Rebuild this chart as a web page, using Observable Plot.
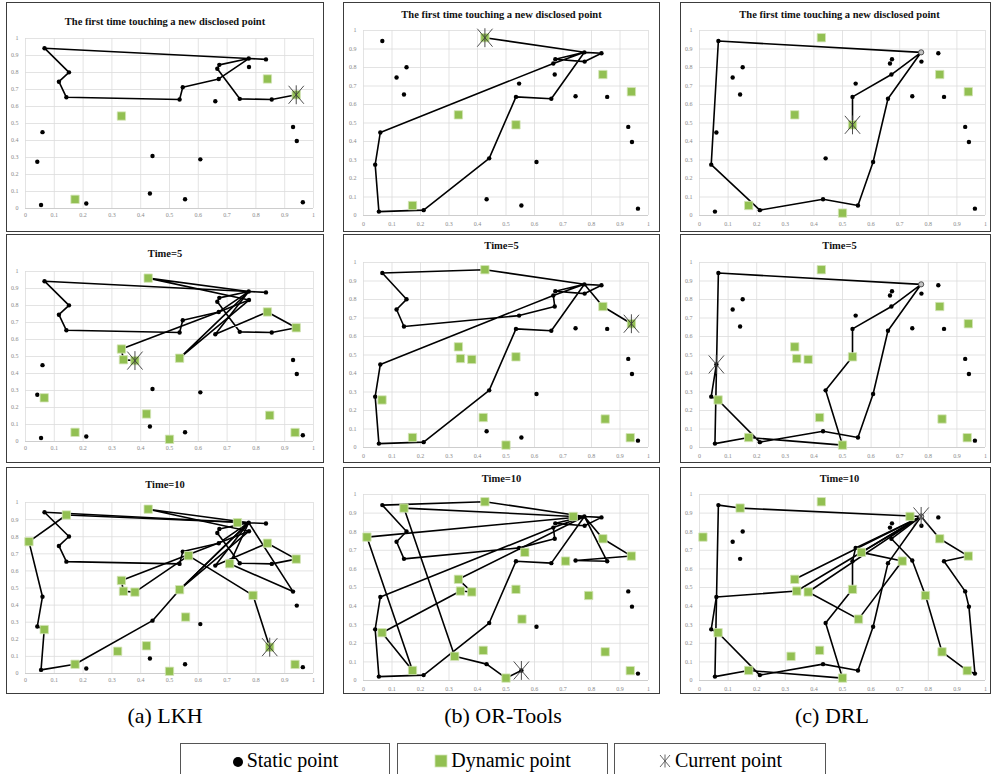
<!DOCTYPE html>
<html>
<head>
<meta charset="utf-8">
<script src="https://cdn.jsdelivr.net/npm/d3@7"></script>
<script src="https://cdn.jsdelivr.net/npm/@observablehq/plot@0.6"></script>
<style>
  html, body { margin:0; padding:0; background:#fff; width:992px; height:774px; overflow:hidden; }
  body { position:relative; font-family:"Liberation Serif","Times New Roman",Times,serif; }
  .pbox { position:absolute; box-sizing:border-box; border:1.5px solid #3c3c3c; pointer-events:none; }
  .psvg { position:absolute; }
  .ptitle { position:absolute; font-family:"Liberation Serif","Times New Roman",Times,serif; font-weight:bold; font-size:10.5px; line-height:12px; text-align:center; color:#111; white-space:nowrap; }
  .cap { position:absolute; font-family:"Liberation Serif","Times New Roman",Times,serif; font-size:22px; line-height:26px; text-align:center; color:#000; white-space:nowrap; }
  .leg { position:absolute; box-sizing:border-box; border:1px solid #555; height:34px; top:743px; font-family:"Liberation Serif","Times New Roman",Times,serif; font-size:20px; line-height:32px; text-align:center; color:#000; white-space:nowrap; }
</style>
</head>
<body>
<script>
// ---------- data ----------
const tickValues = [0, 0.1, 0.2, 0.3, 0.4, 0.5, 0.6, 0.7, 0.8, 0.9, 1];

const staticPoints = [
  ["s1", 0.066, 0.943], ["s2", 0.151, 0.801], ["s3", 0.116, 0.746], ["s4", 0.142, 0.654],
  ["s5", 0.059, 0.449], ["s6", 0.041, 0.275], ["s7", 0.054, 0.021], ["s8", 0.211, 0.029],
  ["s9", 0.432, 0.088], ["s10", 0.441, 0.309], ["s11", 0.554, 0.054], ["s12", 0.607, 0.289],
  ["s13", 0.535, 0.641], ["s14", 0.546, 0.713], ["s15", 0.671, 0.762], ["s16", 0.666, 0.822],
  ["s17", 0.673, 0.845], ["s18", 0.775, 0.882], ["s19", 0.835, 0.877], ["s20", 0.776, 0.832],
  ["s21", 0.659, 0.631], ["s22", 0.744, 0.645], ["s23", 0.855, 0.641], ["s24", 0.929, 0.479],
  ["s25", 0.942, 0.397], ["s26", 0.963, 0.037]
];

const dynamicPoints = [
  ["d1", 0.172, 0.054], ["d2", 0.333, 0.544], ["d3", 0.840, 0.762], ["d4", 0.940, 0.669],
  ["d5", 0.535, 0.490], ["d6", 0.426, 0.961], ["d7", 0.500, 0.013], ["d8", 0.065, 0.257],
  ["d9", 0.420, 0.162], ["d10", 0.848, 0.154], ["d11", 0.936, 0.053], ["d12", 0.340, 0.481],
  ["d13", 0.380, 0.476], ["d14", 0.012, 0.771], ["d15", 0.142, 0.927], ["d16", 0.736, 0.882],
  ["d17", 0.566, 0.689], ["d18", 0.709, 0.642], ["d19", 0.790, 0.457], ["d20", 0.556, 0.330],
  ["d21", 0.320, 0.130]
];

const panelTitles = ["The first time touching a new disclosed point", "Time=5", "Time=10"];
const methodCaptions = ["(a) LKH", "(b) OR-Tools", "(c) DRL"];
const legendLabels = ["Static point", "Dynamic point", "Current point"];

// number of disclosed dynamic points per panel [row][col]
const dynamicShown = [[4, 6, 7], [13, 13, 13], [21, 21, 21]];
// current point per panel [row][col]
const currentPoint = [["d4", "d6", "d5"], ["d13", "d4", "s5"], ["d10", "s11", "s18"]];

// routes per panel: lists of polylines of point ids
const routes = [
  [
    [["s19","s18","s1","s2","s3","s4","s13","s14","s15","s18","s17","s16","s22","s23","d4"]],
    [["s18","s16","s5","s6","s7","s8","s10","s13","s21","s18","s17","s20","s19","s18","d6"]],
    [["s18","s1","s6","s8","s9","s11","s12","s21","s18","s15","s13","d5"]]
  ],
  [
    [["s19","s18","s1","s2","s3","s4","s13","s14","s15","s18","s17","s16","s22","s23","d4","d3","s21","s18"],
     ["s18","d6","s20","d5","s18"],
     ["s20","s15","d2","d12","d13"]],
    [["s18","s16","s5","s6","s7","s8","s10","s13","s21","s18","s17","s20","s19","s18","d6","s1","s2","s3","s4","s14","s15","s16","s18","d3","d4"]],
    [["s18","s1","s7","d1","d7","s10","d5","s13","s15","s18","s21","s12","s11","s9","s8","d8","s6","s5"]]
  ],
  [
    [["s19","s18","s1","s2","s3","s4","s13","s14","s15","s18","s17","s16","s22","s23","d4","d3","s21","s18"],
     ["s18","d6","s20","d5","s18"],
     ["s18","d15","d14","s5","s6","d8","s7","d1","s10","d5","s18"],
     ["s20","d2","d12","d13","d17","d19","d10"],
     ["s18","d18","s24","s18"]],
    [["s18","s16","s5","s6","s7","s8","s10","s13","s21","s18","s17","s20","s19","s18","d6","s1","s2","s3","s4","s14","s15","s16","s18","d3","d4","s22","s23","s18"],
     ["s18","d14","d1","d8","d12","d13","d2","s18"],
     ["s18","d16","d15","d21","s9","d7","s11"]],
    [["s18","d15","s1","s7","d1","d7","s10","d5","s13","s14","s18"],
     ["s18","s21","s12","s11","s9","s8","d8","s6","s5","d12","s18"],
     ["d2","s18"],
     ["s18","d17","d18","d20","d13","s18"],
     ["s18","s15","s22","d19","d10","d11","s26","s25","s24","s23","d4","d3","s18"]]
  ]
];

// ---------- layout ----------
const cols = [
  {left: 6,   width: 318, ml: 19, mr: 11, xpad: 4},
  {left: 343, width: 317, ml: 20, mr: 12, xpad: 6},
  {left: 680, width: 311, ml: 19, mr: 6,  xpad: 6}
];
const rowsA = [
  {top: 2,   h: 230, mt: 36, mb: 24, ty: 16},
  {top: 234, h: 229, mt: 37, mb: 22, ty: 248},
  {top: 467, h: 227, mt: 35, mb: 21, ty: 479}
];
const rowsBC = [
  {top: 2,   h: 230, mt: 28, mb: 17, ty: 9},
  {top: 234, h: 229, mt: 28, mb: 16, ty: 240},
  {top: 467, h: 227, mt: 27, mb: 14, ty: 473}
];

const P = {};
for (const [id, x, y] of staticPoints) P[id] = {id, x, y};
for (const [id, x, y] of dynamicPoints) P[id] = {id, x, y};
const staticData = staticPoints.map(([id, x, y]) => ({id, x, y}));

const starSymbol = {
  draw(ctx, size) {
    const r = Math.sqrt(size / Math.PI);
    ctx.moveTo(-0.85 * r, -r); ctx.lineTo(0.85 * r, r);
    ctx.moveTo(0.85 * r, -r); ctx.lineTo(-0.85 * r, r);
    ctx.moveTo(0, -1.05 * r); ctx.lineTo(0, 1.05 * r);
  }
};
const fmt = d => String(+d.toFixed(1));
const serif = "'Liberation Serif', 'Times New Roman', Times, serif";

function makePanel(r, c) {
  const col = cols[c];
  const row = (c === 0 ? rowsA : rowsBC)[r];
  const lineData = routes[r][c].flatMap((seg, i) => seg.map(id => ({x: P[id].x, y: P[id].y, seg: i})));
  const dyn = dynamicPoints.slice(0, dynamicShown[r][c]).map(([id, x, y]) => ({id, x, y}));
  const cur = P[currentPoint[r][c]];
  const marks = [
    Plot.gridX(tickValues, {stroke: "#dcdcdc", strokeOpacity: 1, strokeWidth: 0.8}),
    Plot.gridY(tickValues, {stroke: "#dcdcdc", strokeOpacity: 1, strokeWidth: 0.8}),
    Plot.ruleY([0], {stroke: "#c8c8c8", strokeWidth: 0.8}),
    Plot.axisX(tickValues, {tickSize: 0, tickPadding: col.xpad, fontSize: 6, fill: "#8a8a8a", tickFormat: fmt, label: null}),
    Plot.axisY(tickValues, {tickSize: 0, tickPadding: 7, fontSize: 6, fill: "#8a8a8a", tickFormat: fmt, label: null}),
    Plot.line(lineData, {x: "x", y: "y", z: "seg", stroke: "#000", strokeWidth: 1.6, strokeLinejoin: "round"}),
    Plot.dot(staticData, {x: "x", y: "y", r: 2.2, fill: "#000"}),
  ];
  if (c === 2) marks.push(Plot.dot([P.s18], {x: "x", y: "y", r: 2.6, fill: "#c4c4c4", stroke: "#333", strokeWidth: 0.8}));
  marks.push(
    Plot.dot(dyn, {x: "x", y: "y", symbol: "square", r: 4.7, fill: "#92c052", stroke: "#d4e5b8", strokeWidth: 0.8}),
    Plot.dot([cur], {x: "x", y: "y", symbol: starSymbol, r: 9, fill: "none", stroke: "#3a3a3a", strokeWidth: 0.9})
  );
  const svg = Plot.plot({
    width: col.width, height: row.h,
    marginLeft: col.ml, marginRight: col.mr, marginTop: row.mt, marginBottom: row.mb,
    x: {domain: [0, 1], label: null},
    y: {domain: [0, 1], label: null},
    style: {fontFamily: serif, background: "transparent", overflow: "visible"},
    marks
  });
  svg.classList.add("psvg");
  svg.style.left = col.left + "px";
  svg.style.top = row.top + "px";
  document.body.appendChild(svg);

  const box = document.createElement("div");
  box.className = "pbox";
  Object.assign(box.style, {left: col.left + "px", top: row.top + "px", width: col.width + "px", height: row.h + "px"});
  document.body.appendChild(box);

  const t = document.createElement("div");
  t.className = "ptitle";
  t.textContent = panelTitles[r];
  Object.assign(t.style, {left: col.left + "px", width: col.width + "px", top: row.ty + "px"});
  if (c === 2) t.style.left = (col.left + 4) + "px";
  document.body.appendChild(t);
}

for (let r = 0; r < 3; r++) for (let c = 0; c < 3; c++) makePanel(r, c);

// captions
const capCenters = [165, 503, 832];
methodCaptions.forEach((txt, i) => {
  const d = document.createElement("div");
  d.className = "cap";
  d.textContent = txt;
  Object.assign(d.style, {left: (capCenters[i] - 100) + "px", width: "200px", top: "703px"});
  document.body.appendChild(d);
});

// legend
const legBoxes = [{left: 180, width: 210}, {left: 397, width: 211}, {left: 614, width: 212}];
const legIcons = [
  '<svg width="12" height="12" style="vertical-align:-1px;margin-right:3px"><circle cx="6" cy="6" r="5" fill="#000"/></svg>',
  '<svg width="14" height="14" style="vertical-align:-1px;margin-right:3px"><rect x="1" y="1" width="12" height="12" fill="#92c052" stroke="#d4e5b8" stroke-width="0.8"/></svg>',
  '<svg width="14" height="14" style="vertical-align:-1px;margin-right:3px"><path d="M2,1L12,13M12,1L2,13M7,0.5L7,13.5" stroke="#555" stroke-width="0.9" fill="none"/></svg>'
];
legendLabels.forEach((txt, i) => {
  const d = document.createElement("div");
  d.className = "leg";
  Object.assign(d.style, {left: legBoxes[i].left + "px", width: legBoxes[i].width + "px"});
  d.innerHTML = legIcons[i];
  d.appendChild(document.createTextNode(txt));
  document.body.appendChild(d);
});
</script>
</body>
</html>
